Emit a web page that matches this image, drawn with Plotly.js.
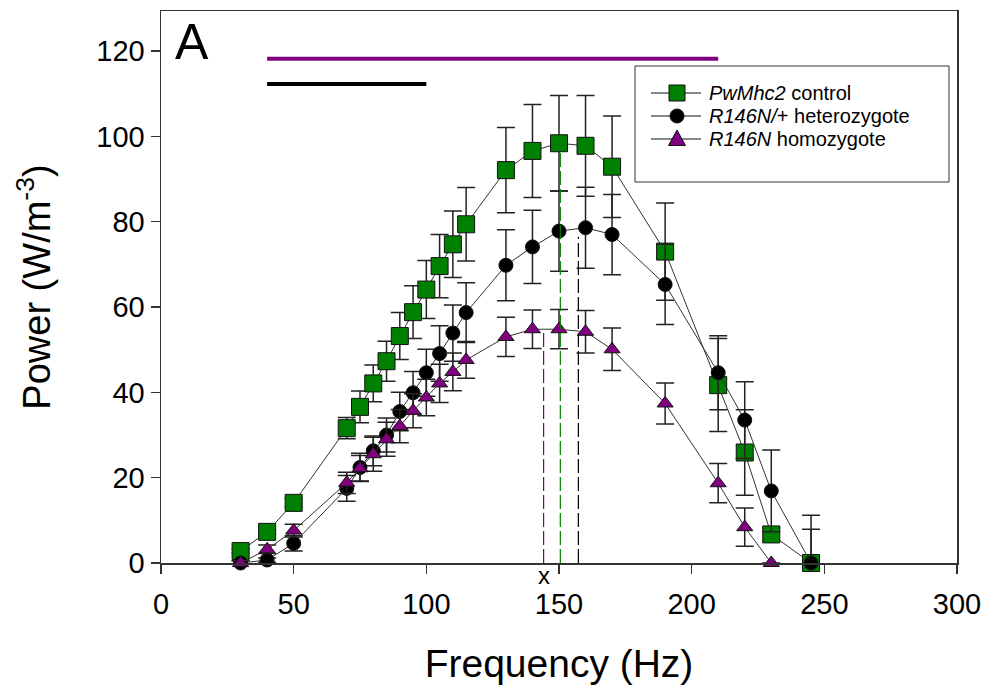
<!DOCTYPE html>
<html>
<head>
<meta charset="utf-8">
<script src="https://cdn.plot.ly/plotly-3.0.1.min.js"></script>
<style>html,body{margin:0;padding:0;background:#fff;}#chart{width:990px;height:692px;}</style>
</head>
<body>
<div id="chart"></div>
<script>
// ---------- data ----------
const freq = [30, 40, 50, 70, 75, 80, 85, 90, 95, 100, 105, 110, 115, 130, 140, 150, 160, 170, 190, 210, 220, 230, 245];

const controlPower = [2.8, 7.3, 14.1, 31.6, 36.6, 42.1, 47.3, 53.2, 58.8, 64.1, 69.6, 74.7, 79.4, 92.1, 96.6, 98.4, 97.8, 92.9, 73.0, 41.7, 25.9, 6.7, 0];
const controlErr   = [0.5, 0.5, 1.0, 2.5, 3.7, 4.3, 4.7, 5.5, 6.2, 6.8, 7.4, 7.8, 8.6, 10.0, 10.9, 11.2, 11.8, 11.9, 11.4, 10.9, 10.0, 1.5, 7.9];

const hetPower = [0, 0.7, 4.6, 17.5, 22.4, 26.3, 30.0, 35.5, 39.9, 44.6, 49.1, 53.9, 58.7, 69.8, 74.1, 77.8, 78.6, 77.0, 65.3, 44.6, 33.5, 16.9, 0];
const hetErr   = [0.5, 0.5, 1.8, 3.0, 3.3, 3.5, 4.0, 4.5, 5.0, 5.5, 6.5, 6.6, 7.0, 8.3, 8.6, 9.4, 9.5, 9.4, 9.4, 8.7, 9.0, 9.6, 11.2];

const homPower = [0, 3.2, 7.6, 18.8, 22.2, 25.5, 29.0, 32.1, 35.7, 38.8, 42.1, 44.8, 47.6, 53.0, 54.8, 54.8, 54.2, 50.1, 37.4, 18.7, 8.4, 0, null];
const homErr   = [0.5, 1.0, 1.5, 2.5, 3.0, 4.0, 4.0, 3.9, 4.0, 4.3, 4.5, 4.4, 4.3, 4.6, 4.5, 4.6, 5.0, 5.0, 4.8, 4.6, 4.5, 0, null];

const seriesNames = ['<i>PwMhc2</i> control', '<i>R146N/</i>+ heterozygote', '<i>R146N</i> homozygote'];

// peak (optimal frequency) markers
const peakFreq  = [150.5, 157.3, 144.2];
const peakPower = [98.4, 76.5, 54.8];

// significance bars
const sigStart = [40, 40];
const sigEnd   = [210, 100];
const sigLevel = [118.2, 112.3];

const xTicks = [0, 50, 100, 150, 200, 250, 300];
const yTicks = [0, 20, 40, 60, 80, 100, 120];

// ---------- styles ----------
const GREEN = 'rgb(0,128,0)', BLACK = 'rgb(0,0,0)', PURPLE = 'rgb(128,0,128)';
const FONT = 'Liberation Sans, Arial, sans-serif';
const colors = [GREEN, BLACK, PURPLE];
const symbols = ['square', 'circle', 'triangle-up'];
const sizes = [17, 14, 14];

const powers = [controlPower, hetPower, homPower];
const errs = [controlErr, hetErr, homErr];

const traces = [];
for (let i = 0; i < 3; i++) {
  traces.push({
    type: 'scatter', mode: 'lines+markers', x: freq, y: powers[i], name: seriesNames[i],
    showlegend: false, cliponaxis: false,
    line: {color: '#333', width: 1},
    marker: {symbol: symbols[i], size: sizes[i], color: colors[i], line: {color: '#111', width: 1}},
    error_y: {type: 'data', array: errs[i], visible: true, color: '#222', thickness: 1.5, width: 9}
  });
}
for (let i = 0; i < 3; i++) {
  traces.push({
    type: 'scatter', mode: 'lines', x: [peakFreq[i], peakFreq[i]], y: [0, peakPower[i]],
    showlegend: false, hoverinfo: 'skip',
    line: {color: colors[i], width: 1.2, dash: '14px,4px'}
  });
}
const sigColors = [PURPLE, BLACK];
for (let i = 0; i < 2; i++) {
  traces.push({
    type: 'scatter', mode: 'lines', x: [sigStart[i], sigEnd[i]], y: [sigLevel[i], sigLevel[i]],
    showlegend: false, hoverinfo: 'skip', line: {color: sigColors[i], width: 4}
  });
}

// ---------- manual legend ----------
const L = 161, T = 11, W = 796, H = 552;
const px = v => (v - L) / W;
const py = v => (563 - v) / H;
const legY = [93, 116, 139];
const shapes = [{
  type: 'rect', xref: 'paper', yref: 'paper', x0: px(635), x1: px(949), y0: py(182), y1: py(66),
  line: {color: '#333', width: 1}, fillcolor: 'white', layer: 'above'
}];
const annotations = [];
for (let i = 0; i < 3; i++) {
  shapes.push({type: 'line', xref: 'paper', yref: 'paper', x0: px(651), x1: px(701), y0: py(legY[i]), y1: py(legY[i]),
    line: {color: '#111', width: 1.2}, layer: 'above'});
  const cx = px(677), cy = py(legY[i]);
  if (i === 0) {
    shapes.push({type: 'rect', xref: 'paper', yref: 'paper', xsizemode: 'pixel', ysizemode: 'pixel',
      xanchor: cx, yanchor: cy, x0: -8, x1: 8, y0: -8, y1: 8, fillcolor: GREEN, line: {color: '#111', width: 1}, layer: 'above'});
  } else if (i === 1) {
    shapes.push({type: 'circle', xref: 'paper', yref: 'paper', xsizemode: 'pixel', ysizemode: 'pixel',
      xanchor: cx, yanchor: cy, x0: -7, x1: 7, y0: -7, y1: 7, fillcolor: BLACK, line: {color: '#111', width: 1}, layer: 'above'});
  } else {
    shapes.push({type: 'path', xref: 'paper', yref: 'paper', xsizemode: 'pixel', ysizemode: 'pixel',
      xanchor: cx, yanchor: cy, path: 'M-8.5,-6.5 L8.5,-6.5 L0,9 Z', fillcolor: PURPLE, line: {color: '#111', width: 1}, layer: 'above'});
  }
  annotations.push({xref: 'paper', yref: 'paper', x: px(708), y: py(legY[i]), xanchor: 'left', yanchor: 'middle',
    text: seriesNames[i], showarrow: false, borderpad: 0,
    font: {family: FONT, size: 20, color: '#000'}});
}
annotations.push({xref: 'paper', yref: 'paper', x: px(173), y: py(42), xanchor: 'left', yanchor: 'middle',
  text: 'A', showarrow: false, font: {family: FONT, size: 50, color: '#000'}});
annotations.push({xref: 'x', yref: 'paper', x: peakFreq[2], y: py(575), xanchor: 'center', yanchor: 'middle',
  text: 'x', showarrow: false, font: {family: FONT, size: 24, color: '#000'}});

const layout = {
  width: 990, height: 692,
  margin: {l: L, r: 990 - L - W, t: T, b: 692 - T - H, pad: 0},
  paper_bgcolor: 'white', plot_bgcolor: 'white',
  font: {family: FONT, color: '#000'},
  showlegend: false,
  xaxis: {
    range: [0, 300], tickvals: xTicks, ticktext: xTicks.map(String),
    showgrid: false, zeroline: false, showline: true, linecolor: '#333', linewidth: 1.5, mirror: true,
    ticks: 'outside', ticklen: 9, tickwidth: 1.5, tickcolor: '#333',
    tickfont: {family: FONT, size: 29, color: '#000'}, ticklabelstandoff: 6,
    title: {text: 'Frequency (Hz)', font: {family: FONT, size: 39, color: '#000'}, standoff: 30}
  },
  yaxis: {
    range: [0, 129.4], tickvals: yTicks, ticktext: yTicks.map(String),
    showgrid: false, zeroline: false, showline: true, linecolor: '#333', linewidth: 1.5, mirror: true,
    ticks: 'outside', ticklen: 9, tickwidth: 1.5, tickcolor: '#333',
    tickfont: {family: FONT, size: 29, color: '#000'}, ticklabelstandoff: 0,
    title: {text: 'Power (W/m<sup>-3</sup>)', font: {family: FONT, size: 38, color: '#000'}, standoff: 34}
  },
  shapes: shapes,
  annotations: annotations
};

Plotly.newPlot('chart', traces, layout, {displayModeBar: false, staticPlot: true});
</script>
</body>
</html>
